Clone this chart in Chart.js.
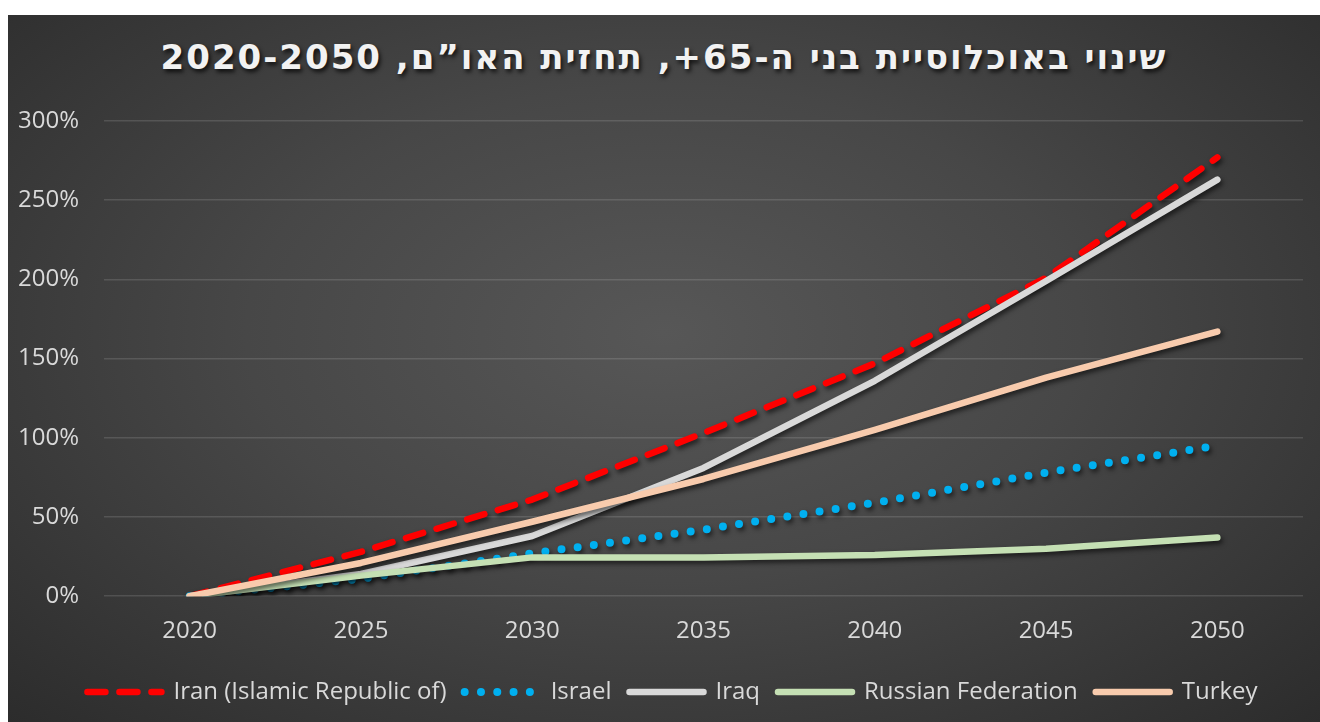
<!DOCTYPE html>
<html lang="he">
<head>
<meta charset="utf-8">
<script src="https://cdn.jsdelivr.net/npm/chart.js@4/dist/chart.umd.min.js"></script>
<style>
    html, body { margin: 0; padding: 0; background: #fff; width: 1320px; height: 722px; overflow: hidden; }
    #panel {
        position: absolute; left: 8px; top: 15px; width: 1312px; height: 707px;
        background: radial-gradient(ellipse at 50% 45%, #575757 0%, #474747 45%, #2c2c2c 100%);
    }
    #titulo {
        position: absolute; left: 0; top: 22px; width: 100%; margin: 0;
        text-align: center; direction: rtl;
        font-family: 'DejaVu Sans', sans-serif; font-weight: bold; font-size: 34px;
        letter-spacing: 2px; color: #f2f2f2;
        text-shadow: 2px 3px 4px rgba(0, 0, 0, 0.75);
    }
    #grafico { position: absolute; left: 0; top: 0; }
</style>
</head>
<body>
<div id="panel">
    <h1 id="titulo">שינוי באוכלוסיית בני ה-65+, תחזית האו”ם, 2020-2050</h1>
    <canvas id="grafico" width="1312" height="707"></canvas>
</div>
<script>
// datos
const years = ['2020', '2025', '2030', '2035', '2040', '2045', '2050'];
const iran = [0, 28, 61, 103, 147, 201, 277];
const israel = [0, 11, 27, 42, 59, 78, 95];
const iraq = [0, 14, 38, 81, 136, 199, 263];
const russia = [0, 13, 24.5, 24.5, 26, 30, 37];
const turkey = [0, 21, 47, 74, 105, 138, 167];
const yTicks = [0, 50, 100, 150, 200, 250, 300];

const textColor = '#d9d9d9';
const fontFamily = "'Open Sans', sans-serif";

// sombra debajo de cada serie (como en Excel)
const sombraLineas = {
    id: 'sombraLineas',
    beforeDatasetDraw(chart) {
        const ctx = chart.ctx;
        ctx.save();
        ctx.shadowColor = 'rgba(0, 0, 0, 0.6)';
        ctx.shadowBlur = 5;
        ctx.shadowOffsetX = 2;
        ctx.shadowOffsetY = 3;
    },
    afterDatasetDraw(chart) {
        chart.ctx.restore();
    }
};

// mover un poco la leyenda para que quede como en el original
const moverLeyenda = {
    id: 'moverLeyenda',
    afterLayout(chart) {
        const lg = chart.legend;
        if (!lg) return;
        lg.left += 17;
        lg.right += 17;
        lg.top -= 5;
        lg.bottom -= 5;
    }
};

function serie(label, data, color, extra) {
    return Object.assign({
        label: label,
        data: data,
        borderColor: color,
        backgroundColor: color,
        borderWidth: 6.5,
        borderCapStyle: 'round',
        borderJoinStyle: 'round',
        pointRadius: 0,
        pointHoverRadius: 0,
        tension: 0,
        fill: false
    }, extra || {});
}

// la leyenda con pointStyle no copia el borderDash, se lo ponemos a mano
function etiquetasLeyenda(chart) {
    const items = Chart.defaults.plugins.legend.labels.generateLabels(chart);
    items.forEach((it) => {
        const ds = chart.data.datasets[it.datasetIndex];
        it.lineDash = ds.borderDash || [];
        it.lineCap = 'round';
        it.lineWidth = ds.borderWidth;
        it.strokeStyle = ds.borderColor;
        it.fillStyle = ds.borderColor;
    });
    return items;
}

const ctx = document.getElementById('grafico').getContext('2d');

new Chart(ctx, {
    type: 'line',
    data: {
        labels: years,
        datasets: [
            serie('Iran (Islamic Republic of)', iran, '#ff0000', { borderDash: [18, 14], order: 5 }),
            serie('Israel', israel, '#00b0f0', { borderDash: [0, 16.3], borderWidth: 8, order: 4 }),
            serie('Iraq', iraq, '#d9d9d9', { order: 3 }),
            serie('Russian Federation', russia, '#c5e0b4', { order: 2 }),
            serie('Turkey', turkey, '#f8cbad', { order: 1 })
        ]
    },
    options: {
        responsive: false,
        animation: false,
        layout: { padding: { top: 106, right: 17, left: 0, bottom: 3 } },
        plugins: {
            title: { display: false },
            tooltip: { enabled: false },
            legend: {
                position: 'bottom',
                labels: {
                    color: textColor,
                    font: { family: fontFamily, size: 24 },
                    usePointStyle: true,
                    pointStyle: 'line',
                    pointStyleWidth: 74,
                    boxWidth: 74,
                    boxHeight: 6,
                    padding: 18,
                    generateLabels: etiquetasLeyenda,
                    sort: (a, b) => a.datasetIndex - b.datasetIndex
                }
            }
        },
        scales: {
            x: {
                offset: true,
                grid: { display: false, drawTicks: false },
                border: { display: false },
                ticks: {
                    color: textColor,
                    font: { family: fontFamily, size: 24 },
                    padding: 21,
                    maxRotation: 0
                }
            },
            y: {
                min: 0,
                max: 300,
                afterBuildTicks: (scale) => { scale.ticks = yTicks.map((v) => ({ value: v })); },
                afterFit: (scale) => { scale.width = 96; },
                grid: { color: 'rgba(255, 255, 255, 0.13)', lineWidth: 1.5, drawTicks: false },
                border: { display: false },
                ticks: {
                    color: textColor,
                    font: { family: fontFamily, size: 24 },
                    padding: 25,
                    callback: (v) => v + '%'
                }
            }
        }
    },
    plugins: [sombraLineas, moverLeyenda]
});
</script>
</body>
</html>
